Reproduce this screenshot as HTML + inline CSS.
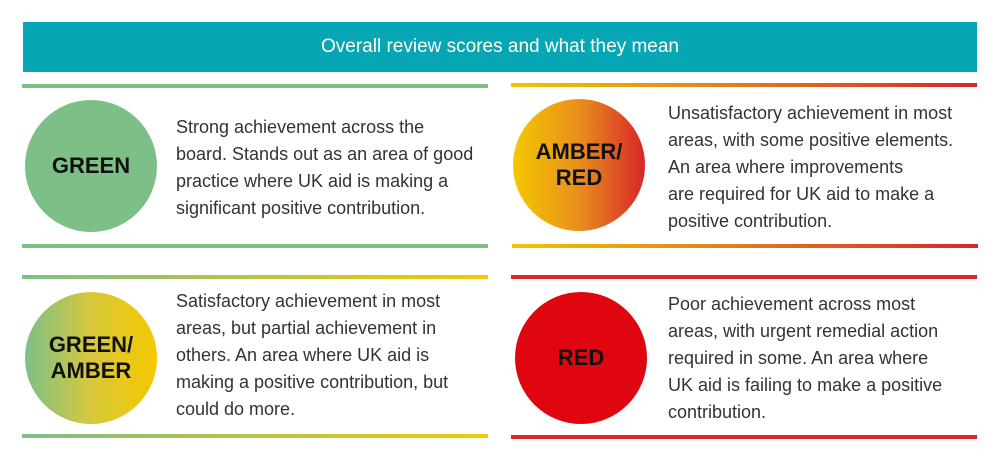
<!DOCTYPE html>
<html><head><meta charset="utf-8"><style>
body{margin:0;width:1000px;height:468px;background:#fff;position:relative;overflow:hidden;font-family:"Liberation Sans",sans-serif;}
.abs{position:absolute;}
.banner{left:23px;top:22px;width:954px;height:50px;background:#06a6b5;color:#fff;font-size:19px;line-height:50px;text-align:center;}
.line{height:4px;}
.circle{width:132px;height:132px;border-radius:50%;display:flex;align-items:center;justify-content:center;text-align:center;font-weight:bold;font-size:22px;line-height:26px;color:#111;}
.txt{font-size:18px;line-height:27px;color:#333;white-space:nowrap;}
</style></head><body>
<div class="abs banner">Overall review scores and what they mean</div>

<div class="abs line" style="left:22px;top:84px;width:466px;background:#7cc087"></div>
<div class="abs line" style="left:22px;top:244px;width:466px;background:#7cc087"></div>
<div class="abs circle" style="left:25px;top:100px;background:#7cc087">GREEN</div>
<div class="abs txt" style="left:176px;top:114px">Strong achievement across the<br>board. Stands out as an area of good<br>practice where UK aid is making a<br>significant positive contribution.</div>

<div class="abs line" style="left:511px;top:83px;width:466px;background:linear-gradient(90deg,#f3c400,#e07a20,#d8262a)"></div>
<div class="abs line" style="left:512px;top:244px;width:466px;background:linear-gradient(90deg,#f3c400,#e07a20,#d8262a)"></div>
<div class="abs circle" style="left:513px;top:99px;background:linear-gradient(90deg,#f5c700,#e88f1c,#d8262a)">AMBER/<br>RED</div>
<div class="abs txt" style="left:668px;top:100px">Unsatisfactory achievement in most<br>areas, with some positive elements.<br>An area where improvements<br>are required for UK aid to make a<br>positive contribution.</div>

<div class="abs line" style="left:22px;top:275px;width:466px;background:linear-gradient(90deg,#7cc087,#f5c800)"></div>
<div class="abs line" style="left:22px;top:434px;width:466px;background:linear-gradient(90deg,#7cc087,#f5c800)"></div>
<div class="abs circle" style="left:25px;top:292px;background:linear-gradient(90deg,#7cc087,#d8c83c,#f5c800)">GREEN/<br>AMBER</div>
<div class="abs txt" style="left:176px;top:288px">Satisfactory achievement in most<br>areas, but partial achievement in<br>others. An area where UK aid is<br>making a positive contribution, but<br>could do more.</div>

<div class="abs line" style="left:511px;top:275px;width:466px;background:#d8262a"></div>
<div class="abs line" style="left:511px;top:435px;width:466px;background:#d8262a"></div>
<div class="abs circle" style="left:515px;top:292px;background:#e0060f">RED</div>
<div class="abs txt" style="left:668px;top:291px">Poor achievement across most<br>areas, with urgent remedial action<br>required in some. An area where<br>UK aid is failing to make a positive<br>contribution.</div>
</body></html>
